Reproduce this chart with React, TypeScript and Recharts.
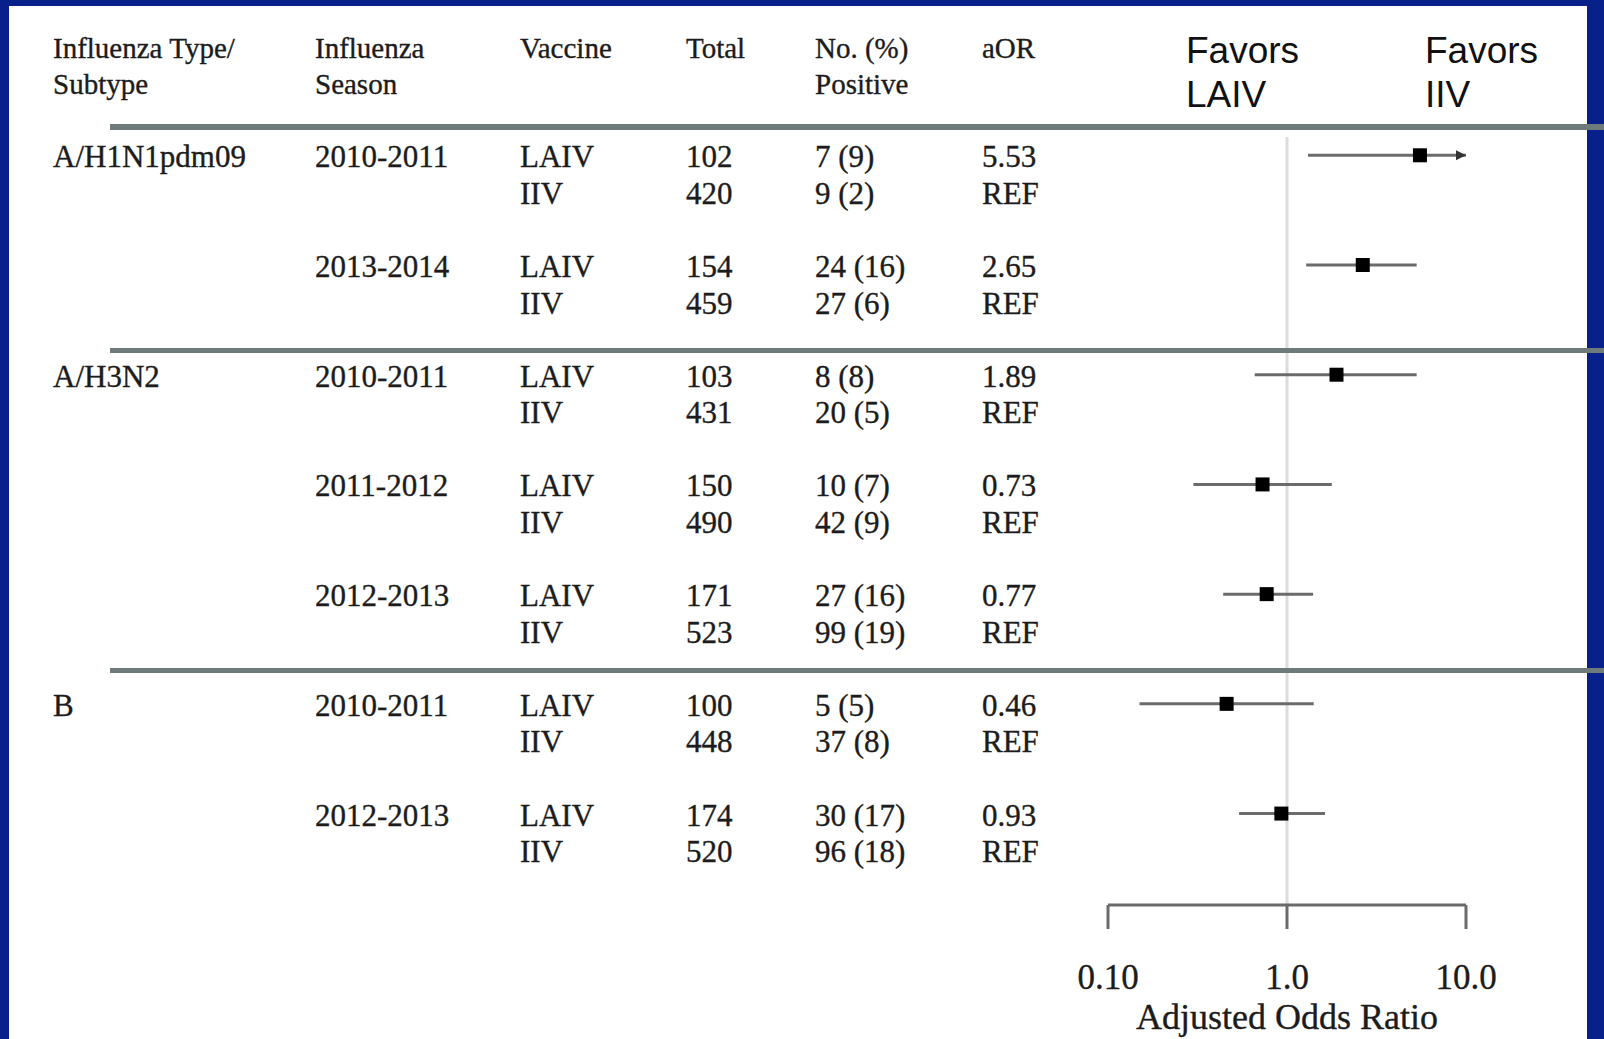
import React from 'react';
import {
  ScatterChart,
  Scatter,
  XAxis,
  YAxis,
  ErrorBar,
  ReferenceLine,
} from 'recharts';

// one entry per influenza season block (LAIV row + IIV row)
const typeSubtype = ['A/H1N1pdm09', 'A/H1N1pdm09', 'A/H3N2', 'A/H3N2', 'A/H3N2', 'B', 'B'];
const seasons = ['2010-2011', '2013-2014', '2010-2011', '2011-2012', '2012-2013', '2010-2011', '2012-2013'];
const laivTotal = [102, 154, 103, 150, 171, 100, 174];
const iivTotal = [420, 459, 431, 490, 523, 448, 520];
const laivPositive = ['7 (9)', '24 (16)', '8 (8)', '10 (7)', '27 (16)', '5 (5)', '30 (17)'];
const iivPositive = ['9 (2)', '27 (6)', '20 (5)', '42 (9)', '99 (19)', '37 (8)', '96 (18)'];
const aor = [5.53, 2.65, 1.89, 0.73, 0.77, 0.46, 0.93];
const ciLow = [1.31, 1.28, 0.66, 0.3, 0.44, 0.15, 0.54];
const ciHigh = [10, 5.3, 5.3, 1.78, 1.4, 1.41, 1.63];
// upper limit runs past the axis, drawn with an arrow
const ciTruncated = [true, false, false, false, false, false, false];

const tickValues = [0.1, 1, 10];
const tickLabels = ['0.10', '1.0', '10.0'];
const axisTitle = 'Adjusted Odds Ratio';

const SERIF = '"Liberation Serif", "Times New Roman", serif';
const SANS = '"Liberation Sans", Arial, sans-serif';
const TEXT = '#1c1c1c';
const BLUE = '#07208a';
const RULE = '#6f7a7a';

// x of each table column
const COL_X = [53, 315, 520, 686, 815, 982];

const ROWS_PER_BLOCK = 3;

const forestData = aor.map((v, i) => ({
  aor: v,
  row: i * ROWS_PER_BLOCK,
  err: [v - ciLow[i], ciHigh[i] - v],
}));

const arrowData = ciHigh
  .map((v, i) => ({ aor: v, row: i * ROWS_PER_BLOCK, show: ciTruncated[i] }))
  .filter(d => d.show);

const tableRows = seasons.flatMap((_, i) => [i * ROWS_PER_BLOCK, i * ROWS_PER_BLOCK + 1]);

function TableRowTick(props: any) {
  const { y, payload } = props;
  const row = payload.value as number;
  const b = Math.floor(row / ROWS_PER_BLOCK);
  const isLaiv = row % ROWS_PER_BLOCK === 0;
  const firstOfType = b === 0 || typeSubtype[b] !== typeSubtype[b - 1];
  const cells = isLaiv
    ? [firstOfType ? typeSubtype[b] : '', seasons[b], 'LAIV', String(laivTotal[b]), laivPositive[b], aor[b].toFixed(2)]
    : ['', '', 'IIV', String(iivTotal[b]), iivPositive[b], 'REF'];
  return (
    <g>
      {cells.map((c, i) =>
        c ? (
          <text key={i} x={COL_X[i]} y={y + 12} fontFamily={SERIF} fontSize={31} fill={TEXT} stroke={TEXT} strokeWidth={0.35}>
            {c}
          </text>
        ) : null
      )}
    </g>
  );
}

const SquareMark = (props: any) => {
  const { cx, cy } = props;
  const s = 14;
  return <rect x={cx - s / 2} y={cy - s / 2} width={s} height={s} fill="#000" />;
};

const ArrowMark = (props: any) => {
  const { cx, cy } = props;
  return <polygon points={`${cx},${cy} ${cx - 10},${cy - 5} ${cx - 10},${cy + 5}`} fill="#333" />;
};

export default function App() {
  return (
    <div style={{ position: 'absolute', left: 0, top: 0, width: 1604, height: 1039, background: BLUE, overflow: 'hidden' }}>
      {/* white slide panel */}
      <div style={{ position: 'absolute', left: 9, top: 6, width: 1578, height: 1033, background: '#fff' }} />

      <div style={{ position: 'absolute', left: 0, top: 0 }}>
        <ScatterChart width={1604} height={1039} margin={{ top: 137, right: 138, bottom: 0, left: 0 }}>
          <XAxis
            type="number"
            dataKey="aor"
            scale="log"
            domain={[0.1, 10]}
            allowDataOverflow
            ticks={tickValues}
            tickFormatter={(v: number) => tickLabels[tickValues.findIndex(t => Math.abs(t - v) < 1e-9)] ?? String(v)}
            height={134}
            axisLine={{ stroke: '#6b6b6b', strokeWidth: 3 }}
            tickLine={{ stroke: '#6b6b6b', strokeWidth: 3 }}
            tickSize={24}
            tickMargin={35}
            tick={{ fill: TEXT, fontSize: 35, fontFamily: SERIF, stroke: TEXT, strokeWidth: 0.35 }}
            label={{ value: axisTitle, position: 'insideBottom', offset: 10, fill: TEXT, fontSize: 36, fontFamily: SERIF, stroke: TEXT, strokeWidth: 0.35 }}
          />
          <YAxis
            type="number"
            dataKey="row"
            domain={[-0.5, 20.5]}
            reversed
            width={1108}
            ticks={tableRows}
            interval={0}
            axisLine={false}
            tickLine={false}
            tick={<TableRowTick />}
          />
          <ReferenceLine x={1} stroke="#dcdcdc" strokeWidth={3} />
          <Scatter data={forestData} shape={<SquareMark />} isAnimationActive={false}>
            <ErrorBar dataKey="err" direction="x" width={0} stroke="#6b6b6b" strokeWidth={3} isAnimationActive={false} />
          </Scatter>
          <Scatter data={arrowData} shape={<ArrowMark />} isAnimationActive={false} />
        </ScatterChart>
      </div>

      {/* header and horizontal rules */}
      <svg width={1604} height={1039} style={{ position: 'absolute', left: 0, top: 0, pointerEvents: 'none' }}>
        <g fontFamily={SERIF} fontSize={29} fill={TEXT} stroke={TEXT} strokeWidth={0.35}>
          <text x={COL_X[0]} y={58}>Influenza Type/</text>
          <text x={COL_X[0]} y={94}>Subtype</text>
          <text x={COL_X[1]} y={58}>Influenza</text>
          <text x={COL_X[1]} y={94}>Season</text>
          <text x={COL_X[2]} y={58}>Vaccine</text>
          <text x={COL_X[3]} y={58}>Total</text>
          <text x={COL_X[4]} y={58}>No. (%)</text>
          <text x={COL_X[4]} y={94}>Positive</text>
          <text x={COL_X[5]} y={58}>aOR</text>
        </g>
        <g fontFamily={SANS} fontSize={37} fill="#111">
          <text x={1186} y={63}>Favors</text>
          <text x={1186} y={107}>LAIV</text>
          <text x={1425} y={63}>Favors</text>
          <text x={1425} y={107}>IIV</text>
        </g>
        <rect x={110} y={124} width={1494} height={6} fill={RULE} />
        <rect x={110} y={348} width={1494} height={5} fill={RULE} />
        <rect x={110} y={668} width={1494} height={5} fill={RULE} />
      </svg>
    </div>
  );
}
